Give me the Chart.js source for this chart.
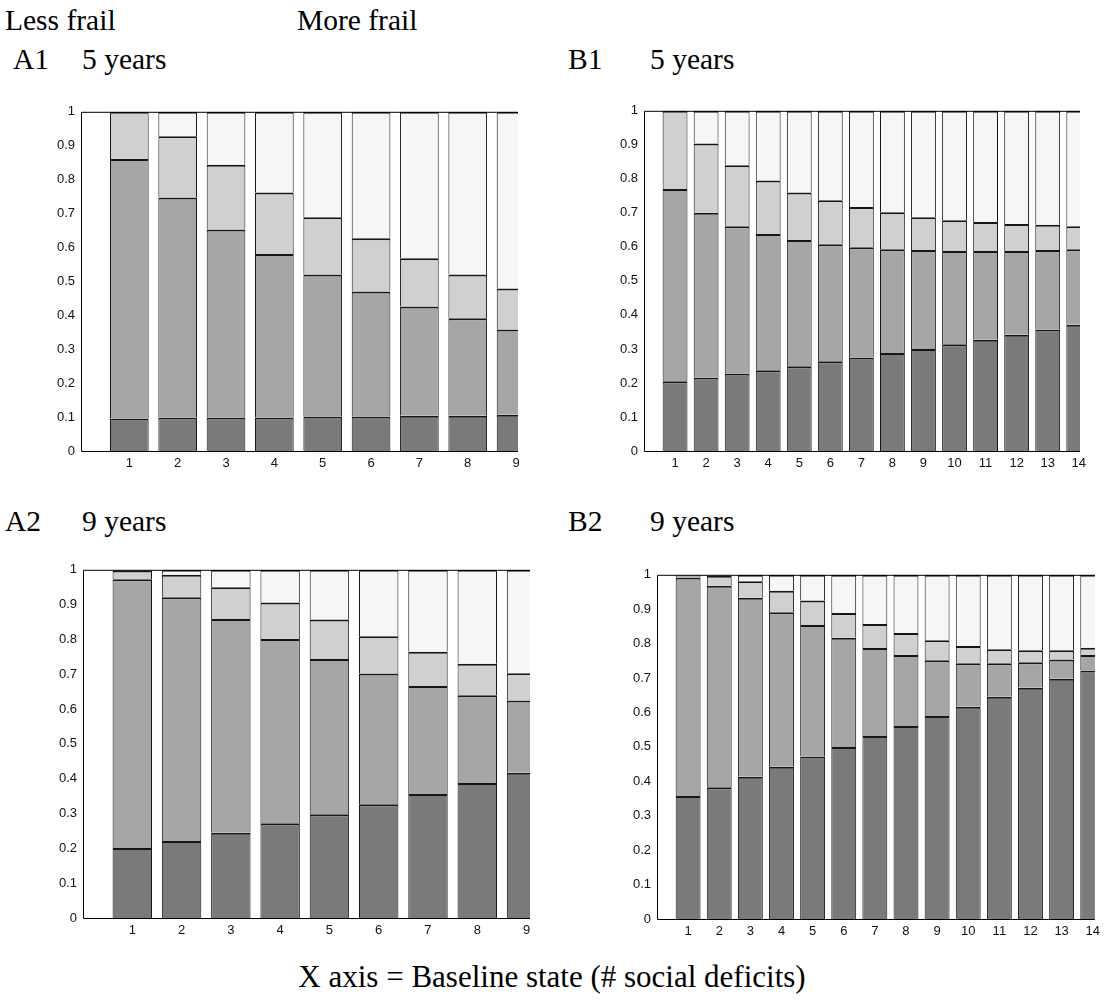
<!DOCTYPE html>
<html>
<head>
<meta charset="utf-8">
<script src="https://cdn.jsdelivr.net/npm/chart.js@4"></script>
<style>
  html, body { margin: 0; padding: 0; background: #fff; }
  #page { position: relative; width: 1104px; height: 1003px; overflow: hidden; background: #fff; }
  .lbl { position: absolute; font-family: "Liberation Serif", "Times New Roman", serif; font-size: 29.5px; line-height: 30px; color: #000; white-space: nowrap; }
  .title { font-size: 31px; }
  canvas { position: absolute; }
</style>
</head>
<body>
<div id="page">
  <div class="lbl" style="left:5px; top:5px;">Less frail</div>
  <div class="lbl" style="left:297px; top:5px;">More frail</div>
  <div class="lbl" style="left:13px; top:44px;">A1</div>
  <div class="lbl" style="left:82px; top:44px;">5 years</div>
  <div class="lbl" style="left:568px; top:44px;">B1</div>
  <div class="lbl" style="left:650px; top:44px;">5 years</div>
  <div class="lbl" style="left:5px; top:506px;">A2</div>
  <div class="lbl" style="left:82px; top:506px;">9 years</div>
  <div class="lbl" style="left:568px; top:506px;">B2</div>
  <div class="lbl" style="left:650px; top:506px;">9 years</div>
  <div class="lbl title" style="left:0; width:1104px; text-align:center; top:962px;">X axis = Baseline state (# social deficits)</div>
  <canvas id="cA1"></canvas>
  <canvas id="cB1"></canvas>
  <canvas id="cA2"></canvas>
  <canvas id="cB2"></canvas>
</div>
<script>
// Baseline states (number of social deficits)
const statesA = [1, 2, 3, 4, 5, 6, 7, 8, 9];
const statesB = [1, 2, 3, 4, 5, 6, 7, 8, 9, 10, 11, 12, 13, 14];
const yTicks = [0, 0.1, 0.2, 0.3, 0.4, 0.5, 0.6, 0.7, 0.8, 0.9, 1];

// Cumulative proportions: upper edge of each band (bottom band first)
// A1 - less frail, 5 years
const a1Band1 = [0.096, 0.099, 0.099, 0.099, 0.102, 0.102, 0.104, 0.104, 0.107];
const a1Band2 = [0.861, 0.747, 0.653, 0.581, 0.520, 0.470, 0.426, 0.391, 0.358];
const a1Band3 = [1.000, 0.928, 0.844, 0.762, 0.689, 0.627, 0.568, 0.520, 0.479];

// B1 - more frail, 5 years
const b1Band1 = [0.205, 0.216, 0.228, 0.237, 0.249, 0.264, 0.275, 0.288, 0.300, 0.314, 0.327, 0.342, 0.357, 0.371];
const b1Band2 = [0.770, 0.700, 0.661, 0.638, 0.620, 0.608, 0.599, 0.593, 0.591, 0.588, 0.588, 0.588, 0.591, 0.593];
const b1Band3 = [1.000, 0.904, 0.840, 0.795, 0.760, 0.737, 0.717, 0.702, 0.687, 0.678, 0.673, 0.667, 0.665, 0.661];

// A2 - less frail, 9 years
const a2Band1 = [0.201, 0.221, 0.245, 0.272, 0.298, 0.327, 0.356, 0.388, 0.417];
const a2Band2 = [0.973, 0.921, 0.859, 0.801, 0.744, 0.702, 0.666, 0.640, 0.625];
const a2Band3 = [0.998, 0.986, 0.950, 0.906, 0.857, 0.809, 0.765, 0.730, 0.703];

// B2 - more frail, 9 years
const b2Band1 = [0.357, 0.383, 0.413, 0.442, 0.472, 0.500, 0.532, 0.561, 0.590, 0.617, 0.646, 0.672, 0.698, 0.722];
const b2Band2 = [0.992, 0.968, 0.933, 0.891, 0.854, 0.817, 0.787, 0.767, 0.752, 0.743, 0.743, 0.746, 0.754, 0.767];
const b2Band3 = [0.998, 0.997, 0.981, 0.954, 0.925, 0.889, 0.857, 0.831, 0.810, 0.793, 0.784, 0.781, 0.781, 0.788];

// Band fills, bottom to top
const bandColors = ['#7a7a7a', '#a6a6a6', '#d0d0d0', '#f6f6f6'];

// Plot-area placement of each panel on the page
const panels = [
  { id: 'cA1', labels: statesA, bands: [a1Band1, a1Band2, a1Band3], xMax: 9.04,  area: { left: 81,  top: 110, right: 518,  bottom: 451 } },
  { id: 'cB1', labels: statesB, bands: [b1Band1, b1Band2, b1Band3], xMax: 14.04, area: { left: 644, top: 109, right: 1083, bottom: 451 } },
  { id: 'cA2', labels: statesA, bands: [a2Band1, a2Band2, a2Band3], xMax: 9.07,  area: { left: 83,  top: 568, right: 530,  bottom: 918 } },
  { id: 'cB2', labels: statesB, bands: [b2Band1, b2Band2, b2Band3], xMax: 14.07, area: { left: 657, top: 573, right: 1097, bottom: 919 } }
];

const PAD_L = 50, PAD_T = 12, PAD_R = 8, PAD_B = 28;

// Frame: left and bottom axes plus the top edge of the box
const framePlugin = {
  id: 'frame',
  afterDatasetsDraw(chart) {
    const { ctx, chartArea: a } = chart;
    ctx.save();
    ctx.strokeStyle = '#000';
    ctx.lineWidth = 1;
    ctx.beginPath();
    ctx.moveTo(a.right, a.top + 0.5);
    ctx.lineTo(a.left + 0.5, a.top + 0.5);
    ctx.lineTo(a.left + 0.5, a.bottom + 0.5);
    ctx.lineTo(a.right, a.bottom + 0.5);
    ctx.stroke();
    ctx.restore();
  }
};

function floating(lows, highs) {
  return highs.map((h, i) => [lows[i], h]);
}

panels.forEach(p => {
  const cv = document.getElementById(p.id);
  const w = (p.area.right - p.area.left) + PAD_L + PAD_R;
  const h = (p.area.bottom - p.area.top) + PAD_T + PAD_B;
  cv.width = w; cv.height = h;
  cv.style.width = w + 'px'; cv.style.height = h + 'px';
  cv.style.left = (p.area.left - PAD_L) + 'px';
  cv.style.top = (p.area.top - PAD_T) + 'px';

  const zeros = p.labels.map(() => 0);
  const ones = p.labels.map(() => 1);
  const edges = [zeros, p.bands[0], p.bands[1], p.bands[2], ones];
  const datasets = [];
  for (let k = 0; k < 4; k++) {
    datasets.push({
      data: floating(edges[k], edges[k + 1]),
      backgroundColor: bandColors[k],
      borderColor: '#161616',
      borderWidth: { top: 2, bottom: 0, left: 1, right: 1 },
      borderSkipped: false,
      inflateAmount: 0,
      grouped: false,
      categoryPercentage: 1,
      barPercentage: 0.8
    });
  }

  new Chart(cv, {
    type: 'bar',
    data: { labels: p.labels, datasets },
    plugins: [framePlugin],
    options: {
      responsive: false,
      animation: false,
      devicePixelRatio: 1,
      layout: { padding: { top: PAD_T, right: PAD_R, left: 0, bottom: 0 } },
      plugins: { legend: { display: false }, tooltip: { enabled: false } },
      scales: {
        x: {
          type: 'linear',
          min: 0,
          max: p.xMax,
          offset: false,
          grid: { display: false, drawTicks: false },
          border: { display: false },
          afterBuildTicks(scale) { scale.ticks = p.labels.map(v => ({ value: v })); },
          afterFit(scale) { scale.height = PAD_B; },
          ticks: {
            autoSkip: false,
            maxRotation: 0,
            padding: 5,
            color: '#111',
            font: { family: 'Liberation Sans, Arial, sans-serif', size: 13 },
            callback: v => String(v)
          }
        },
        y: {
          min: 0,
          max: 1,
          grid: { display: false, drawTicks: false },
          border: { display: false },
          afterBuildTicks(scale) { scale.ticks = yTicks.map(v => ({ value: v })); },
          afterFit(scale) { scale.width = PAD_L; },
          ticks: {
            padding: 6,
            color: '#111',
            font: { family: 'Liberation Sans, Arial, sans-serif', size: 13 },
            callback: v => String(Math.round(v * 10) / 10)
          }
        }
      }
    }
  });
});
</script>
</body>
</html>
